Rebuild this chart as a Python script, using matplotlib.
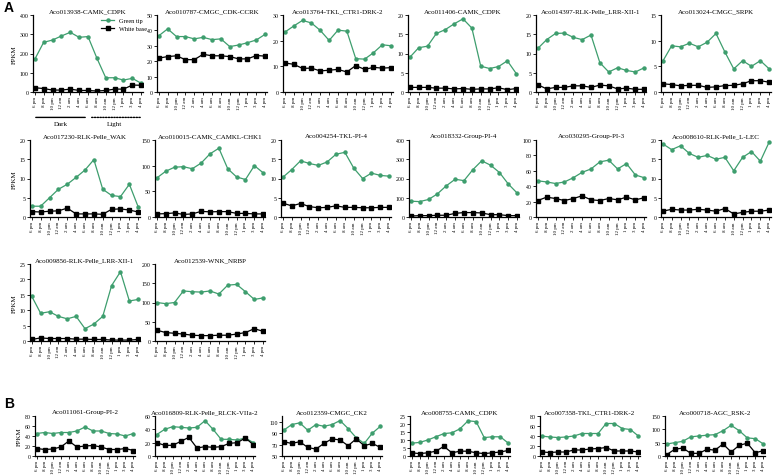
import matplotlib
matplotlib.use("Agg")
import matplotlib.pyplot as plt
import numpy as np

plt.rcParams['font.family'] = ['Liberation Serif', 'DejaVu Serif']

times = ["6 pm", "8 pm", "10 pm", "12 am", "2 am", "4 am", "6 am", "8 am",
         "10 am", "12 pm", "1 pm", "3 pm", "4 pm"]

# ---- Panel A ----
a_titles = [
    "Aco013938-CAMK_CDPK", "Aco010787-CMGC_CDK-CCRK", "Aco013764-TKL_CTR1-DRK-2",
    "Aco011406-CAMK_CDPK", "Aco014397-RLK-Pelle_LRR-XII-1", "Aco013024-CMGC_SRPK",
    "Aco017230-RLK-Pelle_WAK", "Aco010015-CAMK_CAMKL-CHK1", "Aco004254-TKL-PI-4",
    "Aco018332-Group-PI-4", "Aco030295-Group-PI-3", "Aco008610-RLK-Pelle_L-LEC",
    "Aco009856-RLK-Pelle_LRR-XII-1", "Aco012539-WNK_NRBP",
]
a_green = [
    [170, 258, 270, 291, 310, 284, 288, 176, 74, 74, 62, 71, 45],
    [36.5, 41, 36, 36, 34.5, 35.5, 34, 34.5, 29.5, 30.5, 32, 33.8, 37.5],
    [23.3, 25.7, 27.9, 26.9, 24, 20.1, 24.1, 23.7, 13, 12.8, 15.3, 18.4, 18],
    [9.0, 11.5, 11.9, 15.2, 16.2, 17.7, 19.0, 16.6, 6.7, 6.1, 6.6, 8.1, 4.8],
    [11.3, 13.6, 15.2, 15.3, 14.2, 13.6, 14.8, 7.6, 5.2, 6.3, 5.6, 5.2, 6.3],
    [6.0, 9.0, 8.8, 9.5, 8.8, 9.7, 11.4, 7.8, 4.5, 6.1, 5.0, 6.1, 4.5],
    [2.8, 2.8, 5.0, 7.2, 8.5, 10.3, 12.2, 14.9, 7.2, 5.6, 5.3, 8.5, 2.6],
    [76, 89, 97, 98, 94, 105, 123, 134, 94, 78, 73, 100, 86],
    [10.3, 12.3, 14.6, 13.9, 13.4, 14.3, 16.3, 16.8, 12.7, 10.0, 11.4, 10.8, 10.6],
    [82, 80, 91, 120, 162, 196, 189, 246, 292, 269, 231, 171, 124],
    [47, 45.5, 43.5, 45.5, 51, 58, 62.4, 71.6, 73.8, 62.4, 69.4, 54.6, 51],
    [19, 17.5, 18.5, 16.5, 15.5, 16, 15, 15.5, 12, 15.5, 17, 14.5, 19.5],
    [14.5, 9, 9.5, 8, 7.2, 8, 4, 5.5, 8, 18, 22.5, 13, 13.5],
    [100, 97, 100, 130, 128, 127, 130, 122, 145, 147, 128, 108, 112],
]
a_white = [
    [22, 18, 10, 10, 15, 8, 8, 5, 8, 15, 15, 36, 35],
    [22, 23, 23.5, 21, 21, 24.5, 23.5, 23.5, 23, 21.5, 21.5, 23.7, 23.3],
    [11.3, 10.8, 9.2, 9.3, 8.2, 8.5, 8.8, 7.8, 10.3, 8.8, 9.6, 9.3, 9.5],
    [1.2, 1.2, 1.2, 1.0, 1.0, 0.8, 0.9, 0.7, 0.8, 0.8, 1.1, 0.6, 0.9],
    [1.9, 0.8, 1.2, 1.2, 1.6, 1.6, 1.2, 1.8, 1.6, 0.8, 1.0, 0.7, 0.7],
    [1.6, 1.45, 1.2, 1.3, 1.3, 0.9, 1.0, 1.25, 1.3, 1.6, 2.2, 2.2, 1.9],
    [1.4, 1.3, 1.5, 1.6, 2.3, 0.8, 0.8, 0.8, 0.7, 2.0, 2.1, 1.8, 1.3],
    [6, 6.5, 8, 5, 6, 11, 10, 10.5, 10.5, 7, 7, 6, 6],
    [3.6, 2.9, 3.5, 2.7, 2.4, 2.5, 2.9, 2.5, 2.5, 2.4, 2.4, 2.5, 2.5],
    [5, 7, 7, 9, 9, 19, 23, 23, 21, 12, 12, 7, 7],
    [21.4, 25.8, 24, 21.4, 24, 27.5, 22.3, 21.4, 24, 22.3, 25.8, 22.3, 25],
    [1.5, 2, 1.8, 1.8, 2, 1.8, 1.5, 2.2, 0.8, 1.2, 1.5, 1.5, 1.8],
    [0.5, 1, 0.8, 0.8, 0.8, 0.6, 0.6, 0.5, 0.5, 0.3, 0.3, 0.3, 0.5],
    [28, 22, 20, 18, 15, 14, 14, 15, 15, 18, 22, 32, 25],
]
a_ymax = [400, 50, 30, 20, 20, 15, 20, 150, 20, 400, 100, 20, 25, 200]
a_ystep = [100, 10, 10, 5, 5, 5, 5, 50, 5, 100, 20, 5, 5, 50]

# ---- Panel B ----
b_titles = [
    "Aco011061-Group-PI-2", "Aco016809-RLK-Pelle_RLCK-VIIa-2", "Aco012359-CMGC_CK2",
    "Aco008755-CAMK_CDPK", "Aco007358-TKL_CTR1-DRK-2", "Aco000718-AGC_RSK-2",
]
b_green = [
    [45, 47, 45, 47, 47, 50, 58, 50, 50, 45, 44, 40, 45],
    [32, 40, 44, 43, 42, 43, 53, 40, 25, 25, 24, 27, 20],
    [95, 105, 108, 95, 105, 102, 105, 112, 98, 82, 72, 90, 102],
    [8, 8.5, 10, 12, 14, 14.5, 17, 22, 21.5, 11.5, 12, 12, 8],
    [40, 38, 37, 38, 40, 45, 45, 45, 65, 65, 55, 53, 40],
    [45, 50, 55, 72, 75, 78, 80, 95, 115, 95, 68, 65, 45],
]
b_white = [
    [15, 13, 14, 18, 30, 18, 20, 21, 18, 13, 13, 15, 11],
    [20, 16, 16, 22, 28, 12, 14, 13, 14, 19, 20, 27, 17],
    [75, 72, 75, 65, 62, 72, 80, 78, 68, 80, 68, 72, 65],
    [2, 1.5, 2, 3, 6, 2, 3, 3, 2, 1.5, 2, 2.5, 3.5],
    [8, 7, 8, 8, 12, 12, 14, 15, 17, 10, 10, 10, 8],
    [5, 25, 30, 10, 10, 25, 22, 45, 15, 40, 48, 12, 20],
]
b_ylim = [(0, 80), (0, 60), (50, 120), (0, 25), (0, 80), (0, 150)]
b_ystep = [20, 20, 20, 5, 20, 50]

GREEN = "#3e9e6e"
W, H = 777, 477
fig = plt.figure(figsize=(W / 100, H / 100), dpi=100)


def add_ax(left, top, width, height):
    return fig.add_axes([left / W, 1 - (top + height) / H, width / W, height / H])


def style(ax, title, ymin, ymax, step):
    x = np.arange(len(times))
    ax.set_xlim(-0.2, len(times) - 0.8)
    ax.set_ylim(ymin, ymax)
    ax.set_yticks(np.arange(ymin, ymax + step / 2, step))
    ax.set_xticks(x)
    ax.set_xticklabels(times, rotation=90, fontsize=3.6)
    ax.tick_params(axis='y', labelsize=4.2, length=2, width=0.6, pad=1)
    ax.tick_params(axis='x', length=2, width=0.6, pad=1)
    for s in ['top', 'right']:
        ax.spines[s].set_visible(False)
    for s in ['left', 'bottom']:
        ax.spines[s].set_linewidth(0.9)
    ax.set_title(title, fontsize=5, pad=2)


def draw(ax, g, w):
    x = np.arange(len(times))
    lg, = ax.plot(x, g, color=GREEN, lw=0.9, marker='o', ms=2.2, mec=GREEN, mfc=GREEN)
    lw_, = ax.plot(x, w, color='black', lw=0.9, marker='s', ms=2.6)
    return lg, lw_


a_pos = [
    (33, 16), (157, 16), (283, 16), (408, 16), (536, 16), (661, 16),
    (30, 141), (155, 141), (281, 141), (409, 141), (536, 141), (661, 141),
    (30, 265), (155, 265),
]
handles = None
for i in range(len(a_titles)):
    l, t = a_pos[i]
    ax = add_ax(l, t, 110, 77)
    h = draw(ax, a_green[i], a_white[i])
    style(ax, a_titles[i], 0, a_ymax[i], a_ystep[i])
    if i in (0, 6, 12):
        ax.set_ylabel("FPKM", fontsize=5, labelpad=2)
    if i == 0:
        handles = h
        ax.legend(handles, ["Green tip", "White base"], loc='upper right',
                  bbox_to_anchor=(1.08, 1.02), fontsize=4.5, frameon=False,
                  handlelength=2.2, borderpad=0.2, labelspacing=0.4)
        # Dark / Light annotation
        ax.annotate('', xy=(-0.2, -0.33), xytext=(6.0, -0.33),
                    xycoords=('data', 'axes fraction'),
                    arrowprops=dict(arrowstyle='-', lw=1.0, color='black'),
                    annotation_clip=False)
        ax.annotate('', xy=(6.1, -0.33), xytext=(12.2, -0.33),
                    xycoords=('data', 'axes fraction'),
                    arrowprops=dict(arrowstyle='-', lw=1.0, color='black', ls=(0, (1, 1))),
                    annotation_clip=False)
        ax.text(3.0, -0.38, "Dark", transform=ax.get_xaxis_transform(),
                ha='center', va='top', fontsize=5)
        ax.text(9.0, -0.38, "Light", transform=ax.get_xaxis_transform(),
                ha='center', va='top', fontsize=5)

b_pos = [(35, 417), (155, 417), (282, 417), (410, 417), (540, 417), (665, 417)]
for i in range(len(b_titles)):
    l, t = b_pos[i]
    ax = add_ax(l, t, 100, 40)
    draw(ax, b_green[i], b_white[i])
    ymin, ymax = b_ylim[i]
    style(ax, b_titles[i], ymin, ymax, b_ystep[i])
    if i == 0:
        ax.set_ylabel("FPKM", fontsize=5, labelpad=2)

fig.text(4 / W, 1 - 12 / H, "A", fontsize=10, fontweight='bold', family='Liberation Sans')
fig.text(4 / W, 1 - 408 / H, "B", fontsize=10, fontweight='bold', family='Liberation Sans')

fig.savefig("out.png", dpi=100)
